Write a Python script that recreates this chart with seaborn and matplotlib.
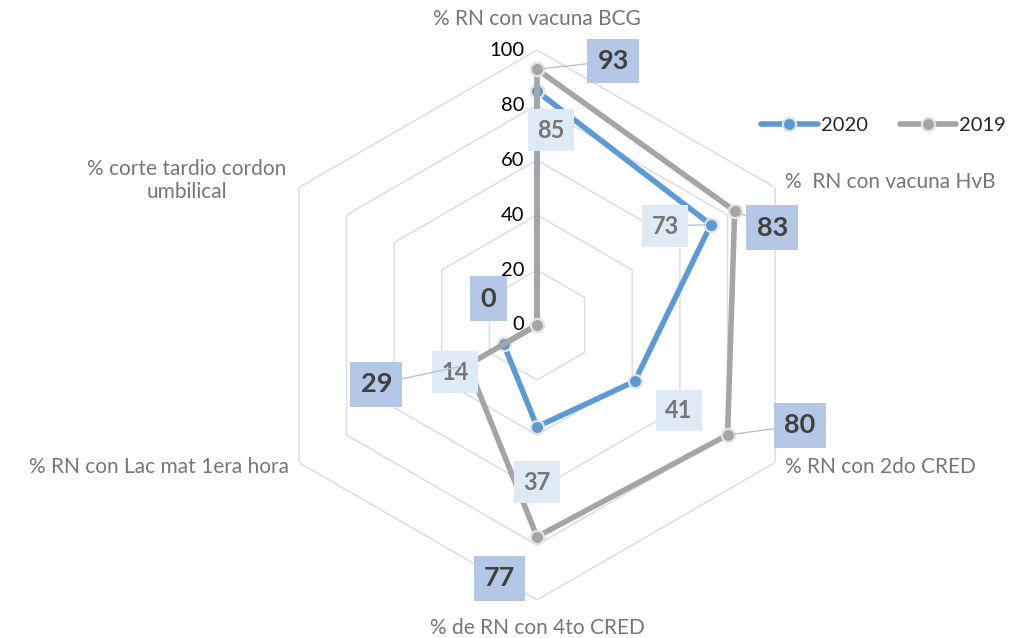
import numpy as np
import pandas as pd
import matplotlib
matplotlib.use("Agg")
import matplotlib.pyplot as plt
from matplotlib.lines import Line2D
import seaborn as sns

# ---- data -------------------------------------------------------------
categories = [
    "% RN con vacuna BCG",
    "%  RN con vacuna HvB",
    "% RN con 2do CRED",
    "% de RN con 4to CRED",
    "% RN con Lac mat 1era hora",
    "% corte tardio cordon\numbilical",
]
values_2020 = [85, 73, 41, 37, 14, 0]
values_2019 = [93, 83, 80, 77, 29, 0]
series_names = ["2020", "2019"]
radial_ticks = [0, 20, 40, 60, 80, 100]

# ---- styling ----------------------------------------------------------
sns.set_theme(style="white")
plt.rcParams["font.family"] = ["Lato", "DejaVu Sans"]

BLUE = "#5B9BD5"
GREY = "#A5A5A5"
GRID = "#D9DEE8"
CAT_COLOR = "#767676"

n = len(categories)
angles = np.linspace(0, 2 * np.pi, n, endpoint=False)

fig = plt.figure(figsize=(10.14, 6.38), dpi=100)
ax = fig.add_axes([0.2584, 0.0596, 0.5424, 0.862], projection="polar")
ax.set_theta_zero_location("N")
ax.set_theta_direction(-1)
ax.set_ylim(0, 100)
ax.grid(False)
ax.spines["polar"].set_visible(False)
ax.set_xticks([])
ax.set_yticks([])

# hexagonal grid rings
ring_theta = np.append(angles, angles[0])
for level in radial_ticks[1:]:
    ax.plot(ring_theta, [level] * (n + 1), color=GRID, lw=1.1, zorder=1)

# radial tick labels along the top spoke
for t in radial_ticks:
    ax.annotate(str(t), xy=(0, t), xytext=(-9, 0), textcoords="offset points",
                ha="right", va="center", fontsize=14.5, color="black")

# category labels around the outer ring (offsets in points)
cat_offsets = [(0, 22, "center", "center"), (7, 4, "left", "center"),
               (7, -3, "left", "center"), (0, -20, "center", "center"),
               (-7, -3, "right", "center"), (-9, 5, "right", "center")]
for ang, lab, (dx, dy, ha, va) in zip(angles, categories, cat_offsets):
    ax.annotate(lab, xy=(ang, 100), xytext=(dx, dy), textcoords="offset points",
                ha=ha, va=va, multialignment="center", fontsize=15,
                color=CAT_COLOR)

# series drawn through seaborn on the polar axes
rows = []
for name, vals in zip(series_names, [values_2020, values_2019]):
    closed = list(vals) + [vals[0]]
    for i, (a, v) in enumerate(zip(ring_theta, closed)):
        rows.append({"year": name, "theta": a, "value": v, "order": i})
df = pd.DataFrame(rows)

palette = {"2020": BLUE, "2019": GREY}
for name, z in zip(series_names, [3, 4]):
    sub = df[df["year"] == name]
    sns.lineplot(data=sub, x="theta", y="value", sort=False, estimator=None,
                 color=palette[name], lw=4, marker="o", markersize=9.5,
                 markeredgecolor="#E3E3E3", markeredgewidth=1.6,
                 ax=ax, legend=False, zorder=z)
ax.set_xlabel("")
ax.set_ylabel("")
ax.set_xticks([])
ax.set_yticks([])

# data labels (offsets in points from each marker)
lab_2019 = [(55, 6, True), (27, -12, True), (52, 7, True),
            (-27, -30, False), (-66, -14, True), (-35, 19, False)]
lab_2020 = [(10, -28, False), (-33, -1, True), (32, -21, False),
            (0, -40, False), (-35, -20, False), None]

def put_labels(vals, offs, fc, tc, fs, pad):
    for ang, v, off in zip(angles, vals, offs):
        if off is None:
            continue
        dx, dy, leader = off
        kw = {}
        if leader:
            kw["arrowprops"] = dict(arrowstyle="-", color="#B4C3D6", lw=1,
                                    shrinkA=0, shrinkB=4)
        ax.annotate(str(v), xy=(ang, v), xytext=(dx, dy),
                    textcoords="offset points", ha="center", va="center",
                    fontsize=fs, fontweight="bold", color=tc, zorder=6,
                    bbox=dict(boxstyle=f"square,pad={pad}", fc=fc, ec="none"),
                    **kw)

put_labels(values_2020, lab_2020, "#DEEBF7", "#767676", 17, 0.4)
put_labels(values_2019, lab_2019, "#B4C7E7", "#404040", 19.5, 0.38)

# legend
handles = [Line2D([0], [0], color=palette[s], lw=4, marker="o", markersize=9.5,
                  markeredgecolor="#E3E3E3", markeredgewidth=1.6)
           for s in series_names]
fig.legend(handles, series_names, loc="center right",
           bbox_to_anchor=(1.0, 0.804), ncol=2, frameon=False, fontsize=14.5,
           handlelength=2.8, handletextpad=0.15, columnspacing=1.6,
           borderaxespad=0)

fig.savefig("out.png", dpi=100, facecolor="white")
